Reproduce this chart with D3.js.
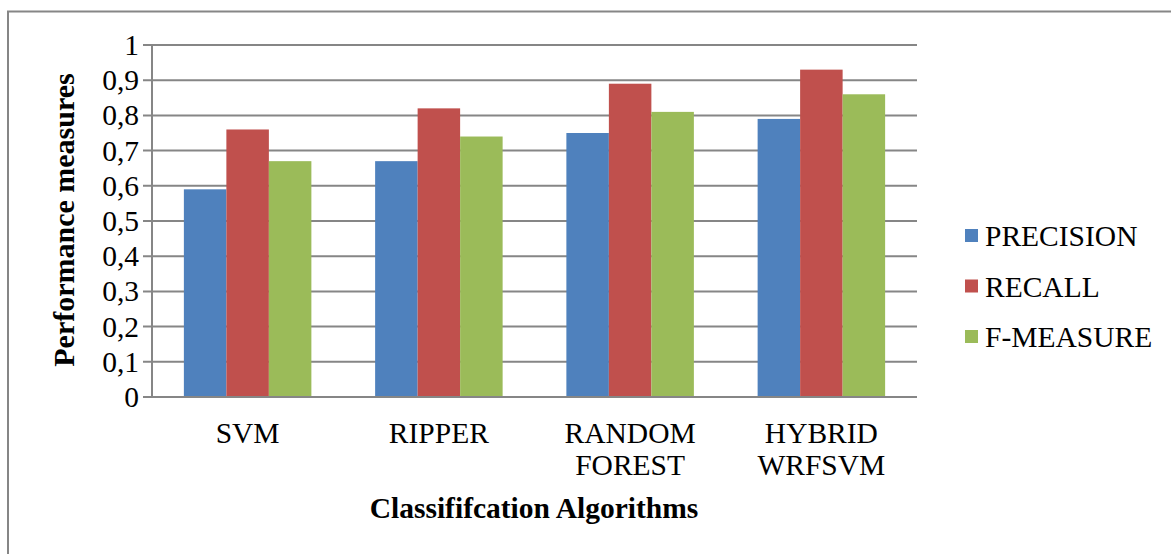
<!DOCTYPE html>
<html>
<head>
<meta charset="utf-8">
<script src="https://cdn.jsdelivr.net/npm/d3@7"></script>
<style>
  html, body { margin: 0; padding: 0; background: #fff; }
  svg { display: block; }
  text { font-family: "Liberation Serif", "Times New Roman", serif; fill: #000; }
</style>
</head>
<body>
<svg id="chart" width="1171" height="554"></svg>
<script>
const categories = [["SVM"], ["RIPPER"], ["RANDOM", "FOREST"], ["HYBRID", "WRFSVM"]];
const seriesNames = ["PRECISION", "RECALL", "F-MEASURE"];
const precision = [0.59, 0.67, 0.75, 0.79];
const recall = [0.76, 0.82, 0.89, 0.93];
const fMeasure = [0.67, 0.74, 0.81, 0.86];
const yTicks = [0, 0.1, 0.2, 0.3, 0.4, 0.5, 0.6, 0.7, 0.8, 0.9, 1];
const yTickLabels = ["0", "0,1", "0,2", "0,3", "0,4", "0,5", "0,6", "0,7", "0,8", "0,9", "1"];
const colors = ["#4F81BD", "#C0504D", "#9BBB59"];
const xTitle = "Classififcation Algorithms";
const yTitle = "Performance measures";

(function () {
const series = [precision, recall, fMeasure];
const svg = d3.select("#chart");

// outer frame
svg.append("rect").attr("x", 8).attr("y", 11.5).attr("width", 1200).attr("height", 600)
  .attr("fill", "none").attr("stroke", "#868686").attr("stroke-width", 2);

const pLeft = 152, pRight = 917, pTop = 45, pBottom = 397;
const catIdx = categories.map((c, i) => i);
const x = d3.scaleBand().domain(catIdx).range([pLeft, pRight]).paddingInner(1/3).paddingOuter(1/6);
const x1 = d3.scaleBand().domain(d3.range(series.length)).range([0, x.bandwidth()]);
const y = d3.scaleLinear().domain([0, 1]).range([pBottom, pTop]);

// gridlines
svg.append("g").selectAll("line").data(yTicks.slice(1)).join("line")
  .attr("x1", pLeft - 9).attr("x2", pRight)
  .attr("y1", d => y(d)).attr("y2", d => y(d))
  .attr("stroke", "#868686").attr("stroke-width", 2);

// y tick labels
svg.append("g").selectAll("text").data(yTicks).join("text")
  .attr("x", 139).attr("y", d => y(d)).attr("dy", "0.34em")
  .attr("text-anchor", "end").attr("font-size", 29.5)
  .text((d, i) => yTickLabels[i]);

// bars
const groups = svg.append("g").selectAll("g").data(catIdx).join("g")
  .attr("transform", i => `translate(${x(i)},0)`);
groups.selectAll("rect").data(i => series.map((s, k) => ({k, v: s[i]}))).join("rect")
  .attr("x", d => x1(d.k)).attr("width", x1.bandwidth())
  .attr("y", d => y(d.v)).attr("height", d => y(0) - y(d.v))
  .attr("fill", d => colors[d.k]);

// axes lines
svg.append("line").attr("x1", pLeft).attr("x2", pLeft).attr("y1", pTop).attr("y2", pBottom)
  .attr("stroke", "#868686").attr("stroke-width", 2);
svg.append("line").attr("x1", pLeft - 9).attr("x2", pRight).attr("y1", pBottom).attr("y2", pBottom)
  .attr("stroke", "#868686").attr("stroke-width", 2);

// category labels
const catText = svg.append("g").selectAll("text").data(catIdx).join("text")
  .attr("text-anchor", "middle").attr("font-size", 29.5)
  .attr("x", i => x(i) + x.bandwidth() / 2).attr("y", 443);
catText.selectAll("tspan").data(i => categories[i].map((t, j) => ({t, j, i}))).join("tspan")
  .attr("x", d => x(d.i) + x.bandwidth() / 2)
  .attr("dy", d => d.j === 0 ? 0 : 32)
  .text(d => d.t);

// axis titles
svg.append("text").attr("x", 534).attr("y", 518).attr("text-anchor", "middle")
  .attr("font-size", 29.5).attr("font-weight", "bold").text(xTitle);
svg.append("text").attr("transform", "translate(74,220) rotate(-90)").attr("text-anchor", "middle")
  .attr("font-size", 30).attr("font-weight", "bold").text(yTitle);

// legend
const leg = svg.append("g").selectAll("g").data(seriesNames).join("g")
  .attr("transform", (d, i) => `translate(965,${236 + i * 50.5})`);
leg.append("rect").attr("x", 0).attr("y", -7).attr("width", 13).attr("height", 13)
  .attr("fill", (d, i) => colors[i]);
leg.append("text").attr("x", 20).attr("y", 0).attr("dy", "0.34em")
  .attr("font-size", 29.5).text(d => d);
})();
</script>
</body>
</html>
